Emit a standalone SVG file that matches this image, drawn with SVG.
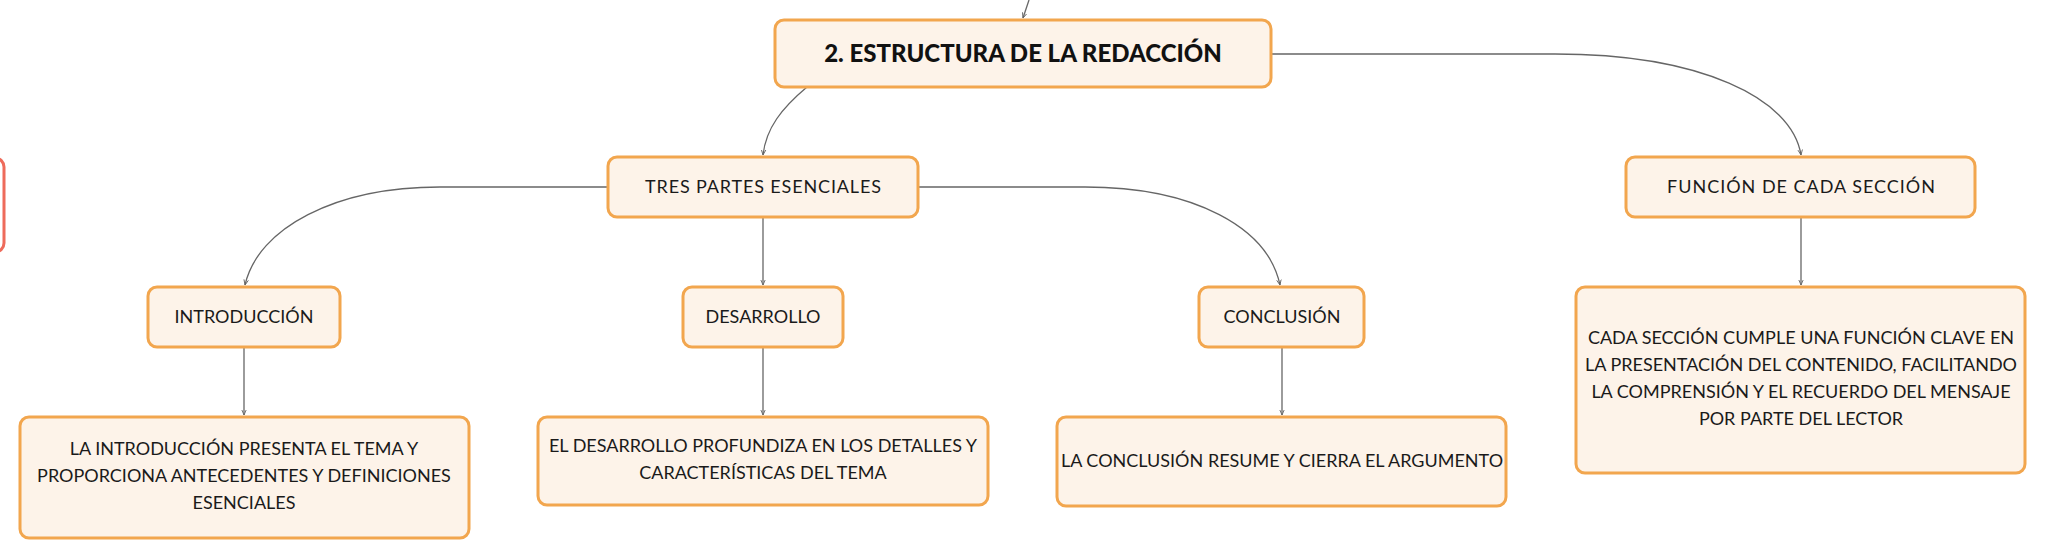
<svg xmlns="http://www.w3.org/2000/svg" width="2046" height="559" viewBox="0 0 2046 559">
<defs>
<style>
.box{fill:#fdf3e9;stroke:#f2a64e;stroke-width:3}
.t{font-family:Lato,"Open Sans","Liberation Sans",sans-serif;font-size:18px;fill:#1a1a1a;text-anchor:middle}
.title{font-family:Lato,"Open Sans","Liberation Sans",sans-serif;font-size:24px;font-weight:900;fill:#111;text-anchor:middle}
.c{fill:none;stroke:#666;stroke-width:1.3}
</style>
<marker id="a" viewBox="0 0 8 8" refX="7" refY="4" markerWidth="6" markerHeight="6" orient="auto" markerUnits="userSpaceOnUse">
<path d="M0,1 L7,4 L0,7" fill="none" stroke="#666" stroke-width="1.2"/>
</marker>
</defs>
<rect width="2046" height="559" fill="#ffffff"/>
<g id="connectors">
<path class="c" d="M1029 0 L1023 18" marker-end="url(#a)"/>
<path class="c" d="M807 87 C782 108 766 128 763 155" marker-end="url(#a)"/>
<path class="c" d="M1271 54 H1555 C1700 54 1792 98 1801 155" marker-end="url(#a)"/>
<path class="c" d="M608 187 H440 C335 187 258 228 245 285" marker-end="url(#a)"/>
<path class="c" d="M763 217 V285" marker-end="url(#a)"/>
<path class="c" d="M918 187 H1085 C1195 187 1268 228 1280 285" marker-end="url(#a)"/>
<path class="c" d="M1801 217 V285" marker-end="url(#a)"/>
<path class="c" d="M244 347 V415" marker-end="url(#a)"/>
<path class="c" d="M763 347 V415" marker-end="url(#a)"/>
<path class="c" d="M1282 347 V415" marker-end="url(#a)"/>
</g>
<g id="edge-node">
<rect x="-100" y="158" width="104" height="94" rx="9" fill="#fff" stroke="#ee6b5b" stroke-width="3"/>
</g>
<g id="main">
<rect class="box" x="775" y="20" width="496" height="67" rx="9"/>
<text class="title" x="1023" y="62">2. ESTRUCTURA DE LA REDACCIÓN</text>
</g>
<g id="tres">
<rect class="box" x="608" y="157" width="310" height="60" rx="9"/>
<text class="t" x="763" y="193" textLength="236" lengthAdjust="spacing">TRES PARTES ESENCIALES</text>
</g>
<g id="funcion">
<rect class="box" x="1626" y="157" width="349" height="60" rx="9"/>
<text class="t" x="1801" y="193" textLength="268" lengthAdjust="spacing">FUNCIÓN DE CADA SECCIÓN</text>
</g>
<g id="intro">
<rect class="box" x="148" y="287" width="192" height="60" rx="9"/>
<text class="t" x="244" y="323">INTRODUCCIÓN</text>
</g>
<g id="desarrollo">
<rect class="box" x="683" y="287" width="160" height="60" rx="9"/>
<text class="t" x="763" y="323">DESARROLLO</text>
</g>
<g id="conclusion">
<rect class="box" x="1199" y="287" width="165" height="60" rx="9"/>
<text class="t" x="1282" y="323">CONCLUSIÓN</text>
</g>
<g id="intro-text">
<rect class="box" x="20" y="417" width="449" height="121" rx="9"/>
<text class="t" x="244" y="455">LA INTRODUCCIÓN PRESENTA EL TEMA Y</text>
<text class="t" x="244" y="482">PROPORCIONA ANTECEDENTES Y DEFINICIONES</text>
<text class="t" x="244" y="509">ESENCIALES</text>
</g>
<g id="desarrollo-text">
<rect class="box" x="538" y="417" width="450" height="88" rx="9"/>
<text class="t" x="763" y="452">EL DESARROLLO PROFUNDIZA EN LOS DETALLES Y</text>
<text class="t" x="763" y="479">CARACTERÍSTICAS DEL TEMA</text>
</g>
<g id="conclusion-text">
<rect class="box" x="1057" y="417" width="449" height="89" rx="9"/>
<text class="t" x="1282" y="467">LA CONCLUSIÓN RESUME Y CIERRA EL ARGUMENTO</text>
</g>
<g id="funcion-text">
<rect class="box" x="1576" y="287" width="449" height="186" rx="9"/>
<text class="t" x="1801" y="344">CADA SECCIÓN CUMPLE UNA FUNCIÓN CLAVE EN</text>
<text class="t" x="1801" y="371">LA PRESENTACIÓN DEL CONTENIDO, FACILITANDO</text>
<text class="t" x="1801" y="398">LA COMPRENSIÓN Y EL RECUERDO DEL MENSAJE</text>
<text class="t" x="1801" y="425">POR PARTE DEL LECTOR</text>
</g>
</svg>
